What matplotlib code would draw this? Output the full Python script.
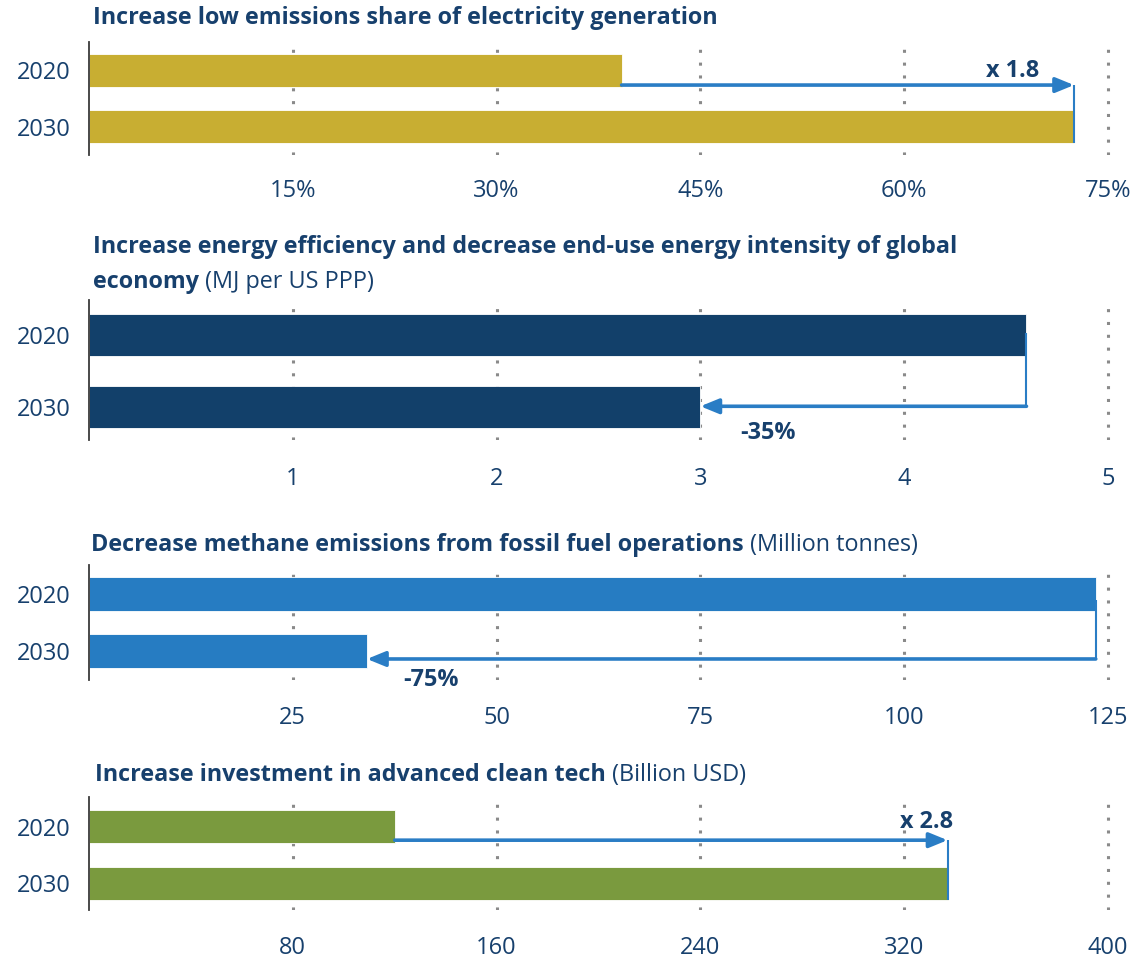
import numpy as np
from matplotlib import pyplot as plt

plt.rcParams['font.family'] = ['Open Sans', 'DejaVu Sans']

# --- data -------------------------------------------------------------
years = ['2020', '2030']

elec_share = [39.2, 72.5]          # % low emissions share of generation
elec_ticks = [15, 30, 45, 60, 75]
elec_ticklabels = ['15%', '30%', '45%', '60%', '75%']

energy_intensity = [4.6, 3.0]      # MJ per US PPP
energy_ticks = [1, 2, 3, 4, 5]
energy_ticklabels = ['1', '2', '3', '4', '5']

methane = [123.5, 34.1]            # Million tonnes
methane_ticks = [25, 50, 75, 100, 125]
methane_ticklabels = ['25', '50', '75', '100', '125']

clean_invest = [120, 337]          # Billion USD
invest_ticks = [80, 160, 240, 320, 400]
invest_ticklabels = ['80', '160', '240', '320', '400']

change_labels = ['x 1.8', '-35%', '-75%', 'x 2.8']

# --- style ------------------------------------------------------------
W, H = 1136, 961
TXT = '#17406d'
ARROW = '#2a7dc5'
GOLD = '#c8ae32'
NAVY = '#12406a'
BLUE = '#267cc2'
GREEN = '#7a9a3e'
TITLE_FS = 16.8
TICK_FS = 17

X0, X1 = 89, 1108   # pixel x of value 0 and of the last tick

fig = plt.figure(figsize=(W / 100, H / 100), dpi=100)


def make_axes(spine_top, spine_bottom, c0, c1, xmax):
    """axes in pixel layout; categories at 0 and 1"""
    pad = 1.006
    rect = [X0 / W, 1 - spine_bottom / H, (X1 - X0) * pad / W,
            (spine_bottom - spine_top) / H]
    ax = fig.add_axes(rect)
    s = c1 - c0
    ax.set_ylim((spine_bottom - c0) / s, (spine_top - c0) / s)
    ax.set_xlim(0, xmax * pad)
    for side in ['top', 'right', 'bottom']:
        ax.spines[side].set_visible(False)
    ax.spines['left'].set_color('#3a3a3a')
    ax.spines['left'].set_linewidth(1.3)
    ax.set_axisbelow(True)
    ax.grid(axis='x', linestyle=(0, (1, 3.2)), color='#8a8a8a', linewidth=2.2)
    ax.grid(axis='y', visible=False)
    return ax, s


def panel(values, ticks, ticklabels, color, spine_top, spine_bottom, c0, c1,
          bar_px, label_y):
    ax, s = make_axes(spine_top, spine_bottom, c0, c1, ticks[-1])
    ax.barh([0, 1], values, height=bar_px / s, color=color,
            edgecolor='white', linewidth=0.6)
    ax.set_yticks([0, 1], years)
    ax.set_xticks(ticks, ticklabels)
    ax.tick_params(axis='y', length=0, pad=13, labelsize=TICK_FS, labelcolor=TXT)
    pad_pt = (label_y - spine_bottom - 11) * 0.72
    ax.tick_params(axis='x', length=0, pad=pad_pt, labelsize=TICK_FS, labelcolor=TXT)
    return ax


def title(ax, x, y, bold, regular=None):
    t = ax.annotate(bold, xy=(x, H - y), xycoords='figure pixels',
                    fontsize=TITLE_FS, fontweight='bold', color=TXT,
                    ha='left', va='center', annotation_clip=False)
    if regular:
        ax.annotate(regular, xy=(1, 0), xycoords=t, fontsize=TITLE_FS,
                    color=TXT, ha='left', va='bottom', annotation_clip=False)
    return t


def growth_arrow(ax, values, ya, yb, label, off):
    v0, v1 = values
    ax.annotate('', xy=(v1, ya), xytext=(v0, ya),
                arrowprops=dict(arrowstyle='-|>,head_length=1.1,head_width=0.45',
                                color=ARROW, lw=2.6, shrinkA=0, shrinkB=0))
    ax.plot([v1, v1], [ya, yb], color=ARROW, lw=1.5, solid_capstyle='butt')
    ax.annotate(label, xy=(v1, ya), xytext=off, textcoords='offset points',
                fontsize=TITLE_FS, fontweight='bold', color=TXT,
                ha='right', va='center')


def drop_arrow(ax, values, ya, yb, label, off):
    v0, v1 = values
    ax.plot([v0, v0], [ya, yb], color=ARROW, lw=1.5, solid_capstyle='butt')
    ax.annotate('', xy=(v1, yb), xytext=(v0, yb),
                arrowprops=dict(arrowstyle='-|>,head_length=1.1,head_width=0.45',
                                color=ARROW, lw=2.6, shrinkA=0, shrinkB=0))
    ax.annotate(label, xy=(v1, yb), xytext=off, textcoords='offset points',
                fontsize=TITLE_FS, fontweight='bold', color=TXT,
                ha='left', va='center')


# panel 1: electricity
ax1 = panel(elec_share, elec_ticks, elec_ticklabels, GOLD, 42, 155, 70.5, 126.5, 33, 190)
title(ax1, 93, 18, 'Increase low emissions share of electricity generation')
growth_arrow(ax1, elec_share, 0.26, 1.29, change_labels[0], (-25, 10))

# panel 2: energy intensity
ax2 = panel(energy_intensity, energy_ticks, energy_ticklabels, NAVY, 300, 440, 335, 407, 42, 478)
title(ax2, 93, 247, 'Increase energy efficiency and decrease end-use energy intensity of global')
title(ax2, 93, 282, 'economy', ' (MJ per US PPP)')
drop_arrow(ax2, energy_intensity, -0.03, 0.99, change_labels[1], (29, -19))

# panel 3: methane
ax3 = panel(methane, methane_ticks, methane_ticklabels, BLUE, 565, 680, 594, 651, 34, 717)
title(ax3, 91, 545, 'Decrease methane emissions from fossil fuel operations', ' (Million tonnes)')
drop_arrow(ax3, methane, 0.1, 1.14, change_labels[2], (26, -15))

# panel 4: clean tech investment
ax4 = panel(clean_invest, invest_ticks, invest_ticklabels, GREEN, 797, 910, 826.5, 883.5, 33, 947)
title(ax4, 95, 775, 'Increase investment in advanced clean tech', ' (Billion USD)')
growth_arrow(ax4, clean_invest, 0.24, 1.29, change_labels[3], (4, 13))

fig.savefig('out.png', dpi=100)
